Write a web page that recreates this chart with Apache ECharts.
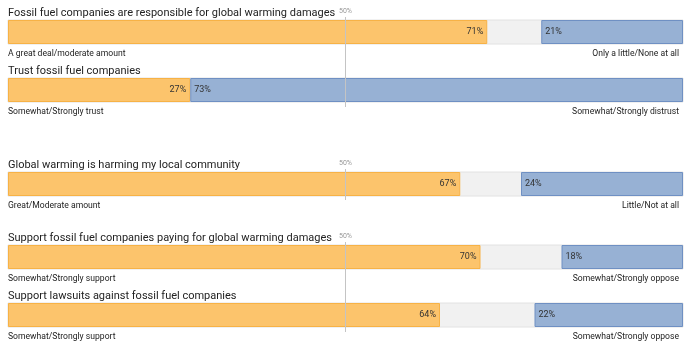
<!DOCTYPE html>
<html>
<head>
<meta charset="utf-8">
<script src="https://cdn.jsdelivr.net/npm/echarts@6/dist/echarts.min.js"></script>
<style>html,body{margin:0;padding:0;background:#fff}#c{width:690px;height:360px}</style>
</head>
<body>
<div id="c"></div>
<script>
const questions = [
  "Fossil fuel companies are responsible for global warming damages",
  "Trust fossil fuel companies",
  "Global warming is harming my local community",
  "Support fossil fuel companies paying for global warming damages",
  "Support lawsuits against fossil fuel companies"
];
const agreeLabels = [
  "A great deal/moderate amount",
  "Somewhat/Strongly trust",
  "Great/Moderate amount",
  "Somewhat/Strongly support",
  "Somewhat/Strongly support"
];
const disagreeLabels = [
  "Only a little/None at all",
  "Somewhat/Strongly distrust",
  "Little/Not at all",
  "Somewhat/Strongly oppose",
  "Somewhat/Strongly oppose"
];
const agreeValues = [71, 27, 67, 70, 64];
const disagreeValues = [21, 73, 24, 18, 22];
const refValue = 50;
const refLabel = "50%";

// layout (pixels)
const barTops = [20, 78, 172, 245, 303];
const barH = 24;
const groups = [[17, 107], [169, 200], [242, 332]];
const L = 8, R = 7;
const FONT = 'Roboto';

const grid = [], xAxis = [], yAxis = [], series = [], title = [];
questions.forEach((q, i) => {
  grid.push({left: L, right: R, top: barTops[i], height: barH, show: true,
    backgroundColor: '#f1f1f1', borderColor: '#e2e2e2', borderWidth: 1, z: 2});
  xAxis.push({type: 'value', gridIndex: i, min: 0, max: 100, show: false});
  xAxis.push({type: 'value', gridIndex: i, min: 0, max: 100, inverse: true, show: false});
  yAxis.push({type: 'category', gridIndex: i, data: [q], show: false});
  series.push({type: 'bar', xAxisIndex: 2 * i, yAxisIndex: i, barWidth: barH, barGap: '-100%', z: 3,
    data: [agreeValues[i]],
    itemStyle: {color: '#fcc46c', borderColor: '#f7b246', borderWidth: 1},
    label: {show: true, position: 'insideRight', formatter: '{c}%', fontSize: 9, color: '#333', fontFamily: FONT, distance: 4},
    silent: true, animation: false});
  series.push({type: 'bar', xAxisIndex: 2 * i + 1, yAxisIndex: i, barWidth: barH, barGap: '-100%', z: 3,
    data: [disagreeValues[i]],
    itemStyle: {color: '#97b1d4', borderColor: '#6f90c3', borderWidth: 1},
    label: {show: true, position: 'insideLeft', formatter: '{c}%', fontSize: 9, color: '#333', fontFamily: FONT, distance: 4},
    silent: true, animation: false});
  title.push({text: q, left: L, top: barTops[i] - 12.5, padding: 0,
    textStyle: {fontSize: 11, fontWeight: 'normal', color: '#222', fontFamily: FONT}});
  title.push({text: agreeLabels[i], left: L, top: barTops[i] + barH + 5.5, padding: 0,
    textStyle: {fontSize: 8.6, fontWeight: 'normal', color: '#222', fontFamily: FONT}});
  title.push({text: disagreeLabels[i], right: 11, top: barTops[i] + barH + 5.5, padding: 0,
    textStyle: {fontSize: 8.6, fontWeight: 'normal', color: '#222', fontFamily: FONT}});
});
groups.forEach((g, k) => {
  const gi = questions.length + k;
  grid.push({left: L, right: R, top: g[0], height: g[1] - g[0]});
  xAxis.push({type: 'value', gridIndex: gi, min: 0, max: 100, show: false});
  yAxis.push({type: 'value', gridIndex: gi, min: 0, max: 1, show: false});
  series.push({type: 'line', xAxisIndex: xAxis.length - 1, yAxisIndex: yAxis.length - 1, data: [], z: 1,
    silent: true, animation: false,
    markLine: {silent: true, symbol: 'none', animation: false,
      data: [{xAxis: refValue}],
      lineStyle: {color: '#c4c4c4', type: 'solid', width: 1},
      label: {show: true, position: 'end', formatter: refLabel, fontSize: 7, color: '#999', fontFamily: FONT, distance: 2}}});
});

const chart = echarts.init(document.getElementById('c'), null, {renderer: 'canvas'});
chart.setOption({animation: false, title, grid, xAxis, yAxis, series});
</script>
</body>
</html>
